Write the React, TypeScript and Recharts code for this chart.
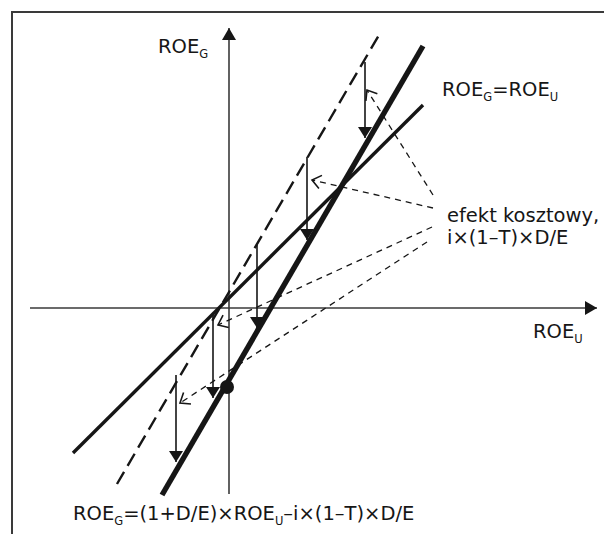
import React from 'react';
import { ComposedChart, Line, Scatter, XAxis, YAxis } from 'recharts';

// data units: both axes 20 px per unit, origin where the axes cross
const neutralLine = [
  { x: -7.8, y: -7.25 },
  { x: 9.7, y: 10.15 },
];
const leveredLine = [
  { x: -3.35, y: -9.35 },
  { x: 9.7, y: 13.1 },
];
const grossLine = [
  { x: -5.6, y: -8.8 },
  { x: 7.5, y: 13.65 },
];

const uAxis = [
  { x: -9.95, y: 0 },
  { x: 18.4, y: 0 },
];
const gAxis = [
  { x: 0, y: -9.3 },
  { x: 0, y: 14.0 },
];

// vertical "cost effect" arrows: x, start (on dashed line), tip (on thick line)
const costX = [6.8, 3.9, 1.4, -0.8, -2.65];
const costFrom = [12.3, 7.55, 3.15, -0.25, -3.35];
const costTo = [8.5, 3.4, -1.0, -4.5, -7.7];

// dashed pointers from the label to the arrows
const pointerFrom = [
  { x: 10.2, y: 5.65 },
  { x: 10.2, y: 5.0 },
  { x: 10.15, y: 4.05 },
  { x: 9.9, y: 3.3 },
];
const pointerTo = [
  { x: 6.9, y: 10.9 },
  { x: 4.15, y: 6.4 },
  { x: -0.55, y: -0.85 },
  { x: -2.45, y: -4.75 },
];

const interceptPoint = [{ x: -0.1, y: -3.95 }];

type Part = { t: string; sub?: boolean };
const labelTexts: Part[][] = [
  [{ t: 'ROE' }, { t: 'G', sub: true }],
  [{ t: 'ROE' }, { t: 'G', sub: true }, { t: '=ROE' }, { t: 'U', sub: true }],
  [{ t: 'efekt kosztowy,' }],
  [{ t: 'i×(1–T)×D/E' }],
  [{ t: 'ROE' }, { t: 'U', sub: true }],
  [
    { t: 'ROE' },
    { t: 'G', sub: true },
    { t: '=(1+D/E)×ROE' },
    { t: 'U', sub: true },
    { t: '–i×(1–T)×D/E' },
  ],
];
const labelAt = [
  { x: -3.55, y: 12.75 },
  { x: 10.65, y: 10.6 },
  { x: 10.9, y: 4.3 },
  { x: 10.9, y: 3.2 },
  { x: 15.2, y: -1.5 },
  { x: -7.8, y: -10.6 },
];

const INK = '#161616';
const AXIS = '#3a3a3a';

const labelData = labelAt.map((p, i) => ({ ...p, i }));

const solidHeads = [
  { x: uAxis[1].x, y: 0, angle: 0, len: 12, half: 7 },
  { x: 0, y: gAxis[1].y, angle: -90, len: 12, half: 7 },
  ...costX.map((x, i) => ({ x, y: costTo[i], angle: 90, len: 11, half: 7 })),
];

const chevrons = pointerTo.map((p, i) => ({
  ...p,
  angle:
    (Math.atan2(-(p.y - pointerFrom[i].y), p.x - pointerFrom[i].x) * 180) /
    Math.PI,
}));

const Triangle = (props: any) => {
  const { cx, cy, payload } = props;
  const a = (payload.angle * Math.PI) / 180;
  const bx = cx - payload.len * Math.cos(a);
  const by = cy - payload.len * Math.sin(a);
  const nx = -Math.sin(a) * payload.half;
  const ny = Math.cos(a) * payload.half;
  return (
    <polygon
      points={`${cx},${cy} ${bx + nx},${by + ny} ${bx - nx},${by - ny}`}
      fill={INK}
    />
  );
};

const Chevron = (props: any) => {
  const { cx, cy, payload } = props;
  const a = (payload.angle * Math.PI) / 180;
  const arm = 11;
  const spread = (38 * Math.PI) / 180;
  const p1x = cx - arm * Math.cos(a - spread);
  const p1y = cy - arm * Math.sin(a - spread);
  const p2x = cx - arm * Math.cos(a + spread);
  const p2y = cy - arm * Math.sin(a + spread);
  return (
    <polyline
      points={`${p1x},${p1y} ${cx},${cy} ${p2x},${p2y}`}
      fill="none"
      stroke={INK}
      strokeWidth={1.6}
    />
  );
};

const Label = (props: any) => {
  const { cx, cy, payload } = props;
  const parts = labelTexts[payload.i];
  let shift = 0;
  return (
    <text
      x={cx}
      y={cy}
      fontFamily="'DejaVu Sans', sans-serif"
      fontSize={19.5}
      fill={INK}
    >
      {parts.map((p, k) => {
        const dy = p.sub ? 5 - shift : -shift;
        shift = p.sub ? 5 : 0;
        return (
          <tspan key={k} dy={dy} fontSize={p.sub ? 11.5 : 19.5}>
            {p.t}
          </tspan>
        );
      })}
    </text>
  );
};

const Dot = (props: any) => (
  <circle cx={props.cx} cy={props.cy} r={7} fill={INK} />
);

const seg = (a: { x: number; y: number }, b: { x: number; y: number }) => [a, b];

export default function App() {
  return (
    <div
      style={{
        position: 'absolute',
        left: 0,
        top: 0,
        width: 604,
        height: 534,
        background: '#fff',
      }}
    >
      <div
        style={{
          position: 'absolute',
          left: 11,
          top: 11,
          right: 0,
          bottom: 0,
          borderTop: `2px solid ${AXIS}`,
          borderLeft: `2px solid ${AXIS}`,
        }}
      />
      <ComposedChart
        width={604}
        height={534}
        margin={{ top: 0, right: 0, bottom: 0, left: 0 }}
        style={{ position: 'absolute', left: 0, top: 0 }}
      >
        <XAxis
          dataKey="x"
          type="number"
          domain={[-11.45, 18.75]}
          allowDataOverflow
          hide
        />
        <YAxis
          dataKey="y"
          type="number"
          domain={[-11.3, 15.4]}
          allowDataOverflow
          hide
        />

        <Line data={uAxis} dataKey="y" stroke={AXIS} strokeWidth={1.6} dot={false} activeDot={false} isAnimationActive={false} />
        <Line data={gAxis} dataKey="y" stroke={AXIS} strokeWidth={1.6} dot={false} activeDot={false} isAnimationActive={false} />

        {pointerFrom.map((p, i) => (
          <Line
            key={`p${i}`}
            data={seg(p, pointerTo[i])}
            dataKey="y"
            stroke={INK}
            strokeWidth={1.3}
            strokeDasharray="6 5"
            dot={false}
            activeDot={false}
            isAnimationActive={false}
          />
        ))}

        {costX.map((x, i) => (
          <Line
            key={`c${i}`}
            data={seg({ x, y: costFrom[i] }, { x, y: costTo[i] })}
            dataKey="y"
            stroke={INK}
            strokeWidth={1.6}
            dot={false}
            activeDot={false}
            isAnimationActive={false}
          />
        ))}

        <Line data={grossLine} dataKey="y" stroke={INK} strokeWidth={2.4} strokeDasharray="14 7" dot={false} activeDot={false} isAnimationActive={false} />
        <Line data={neutralLine} dataKey="y" stroke={INK} strokeWidth={3.4} dot={false} activeDot={false} isAnimationActive={false} />
        <Line data={leveredLine} dataKey="y" stroke={INK} strokeWidth={5.4} dot={false} activeDot={false} isAnimationActive={false} />

        <Scatter data={solidHeads} shape={Triangle} isAnimationActive={false} />
        <Scatter data={chevrons} shape={Chevron} isAnimationActive={false} />
        <Scatter data={interceptPoint} shape={Dot} isAnimationActive={false} />
        <Scatter data={labelData} shape={Label} isAnimationActive={false} />
      </ComposedChart>
    </div>
  );
}
